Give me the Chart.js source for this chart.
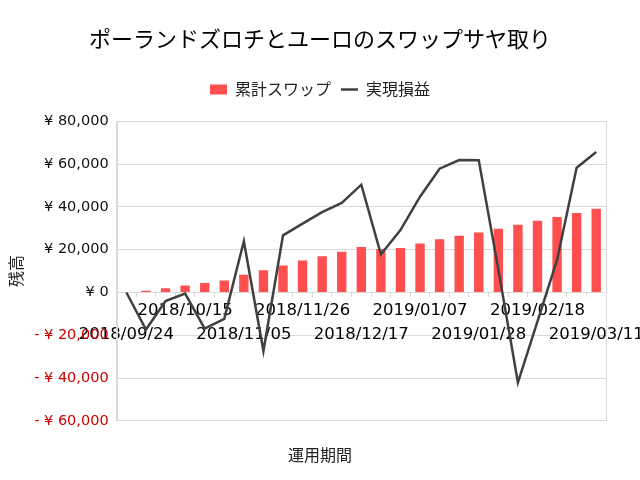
<!DOCTYPE html>
<html><head><meta charset="utf-8">
<script src="https://cdn.jsdelivr.net/npm/chart.js@4/dist/chart.umd.min.js"></script>
<style>html,body{margin:0;padding:0;background:#fff;overflow:hidden}</style>
</head><body>
<canvas id="c" width="640" height="480"></canvas>
<script>
const categories = ['2018/09/24','2018/10/01','2018/10/08','2018/10/15','2018/10/22','2018/10/29',
  '2018/11/05','2018/11/12','2018/11/19','2018/11/26','2018/12/03','2018/12/10',
  '2018/12/17','2018/12/24','2018/12/31','2019/01/07','2019/01/14','2019/01/21',
  '2019/01/28','2019/02/04','2019/02/11','2019/02/18','2019/02/25','2019/03/04','2019/03/11'];
const swapTotal = [0, 800, 2000, 3300, 4400, 5600, 8300, 10400, 12600, 15000, 17000, 19000, 21300,
  20300, 20800, 22900, 24900, 26500, 28000, 29800, 31700, 33600, 35300, 37200, 39100];
const realizedPL = [0, -17300, -4000, -500, -16900, -12300, 24000, -27400, 26700, 32200, 37600, 41900,
  50400, 17800, 29200, 44800, 57900, 61900, 61800, 10800, -42100, -13500, 15200, 58300, 65700];
const yTicks = [-60000, -40000, -20000, 0, 20000, 40000, 60000, 80000];

const seriesNames = ['累計スワップ', '実現損益'];
const titleText = 'ポーランドズロチとユーロのスワップサヤ取り';
const xTitle = '運用期間';
const yTitle = '残高';

const JP = "'Noto Sans CJK JP', sans-serif";
const NUM = "'DejaVu Sans', 'Noto Sans CJK JP', sans-serif";

function fmt(v) {
  const s = String(Math.abs(v)).replace(/\B(?=(\d{3})+(?!\d))/g, ',');
  return v < 0 ? '- ¥ ' + s : '¥ ' + s;
}

const frame = {
  id: 'frame',
  beforeDatasetsDraw(chart) {
    const a = chart.chartArea, ctx = chart.ctx;
    ctx.save();
    ctx.strokeStyle = '#d9d9d9';
    ctx.lineWidth = 1;
    ctx.strokeRect(Math.round(a.left) + 0.5, Math.round(a.top) + 0.5, Math.round(a.right - a.left), Math.round(a.bottom - a.top));
    ctx.restore();
  }
};
const legendMargin = {
  id: 'legendMargin',
  beforeInit(chart) {
    const orig = chart.legend.fit;
    chart.legend.fit = function () { orig.call(this); this.height += 14; };
  }
};

new Chart(document.getElementById('c'), {
  data: {
    labels: categories,
    datasets: [
      { type: 'bar', label: seriesNames[0], data: swapTotal, backgroundColor: '#ff4f4f', borderWidth: 0,
        categoryPercentage: 1, barPercentage: 0.48, order: 1, pointStyle: 'rect' },
      { type: 'line', label: seriesNames[1], data: realizedPL, borderColor: '#404040', backgroundColor: '#404040',
        borderWidth: 2.5, pointRadius: 0, tension: 0, order: 0, pointStyle: 'line' }
    ]
  },
  options: {
    responsive: false,
    animation: false,
    devicePixelRatio: 1,
    layout: { padding: 0 },
    plugins: {
      tooltip: { enabled: false },
      title: { display: true, text: titleText, color: '#000', font: { family: JP, size: 22, weight: 'normal' },
        padding: { top: 25, bottom: 20 } },
      subtitle: { display: true, position: 'bottom', text: xTitle, color: '#222', font: { family: JP, size: 16, weight: 'normal' },
        padding: { top: 25, bottom: 15 } },
      legend: {
        position: 'top',
        labels: { usePointStyle: true, pointStyleWidth: 17, boxHeight: 10, color: '#222', padding: 10,
          font: { family: JP, size: 16 },
          sort: (a, b) => a.datasetIndex - b.datasetIndex }
      }
    },
    scales: {
      x: {
        type: 'category',
        position: { y: 0 },
        offset: true,
        grid: { display: true, drawOnChartArea: false, drawTicks: true, tickLength: 4, offset: true, color: '#d9d9d9' },
        border: { display: true, color: '#d9d9d9' },
        ticks: {
          autoSkip: false, maxRotation: 0, minRotation: 0, padding: 2, color: '#000',
          font: { family: NUM, size: 16.5, lineHeight: 1.45 },
          callback: (v, i) => (i % 3 !== 0 ? '' : (i % 6 === 0 ? ['', categories[i]] : [categories[i]]))
        },
        afterFit(scale) { scale.paddingLeft = 0; scale.paddingRight = 34; }
      },
      y: {
        type: 'linear',
        position: 'left',
        min: yTicks[0], max: yTicks[yTicks.length - 1],
        afterBuildTicks(scale) { scale.ticks = yTicks.map(v => ({ value: v })); },
        grid: { color: '#d9d9d9', drawTicks: false },
        border: { display: true, color: '#d9d9d9' },
        ticks: {
          padding: 8,
          font: { family: NUM, size: 14.5 },
          color: (ctx) => (ctx.tick && ctx.tick.value < 0 ? '#cc0000' : '#111'),
          callback: (v) => fmt(v)
        },
        title: { display: true, text: yTitle, color: '#222', font: { family: JP, size: 16 }, padding: { top: 6, bottom: 1 } }
      }
    }
  },
  plugins: [frame, legendMargin]
});
</script>
</body></html>
